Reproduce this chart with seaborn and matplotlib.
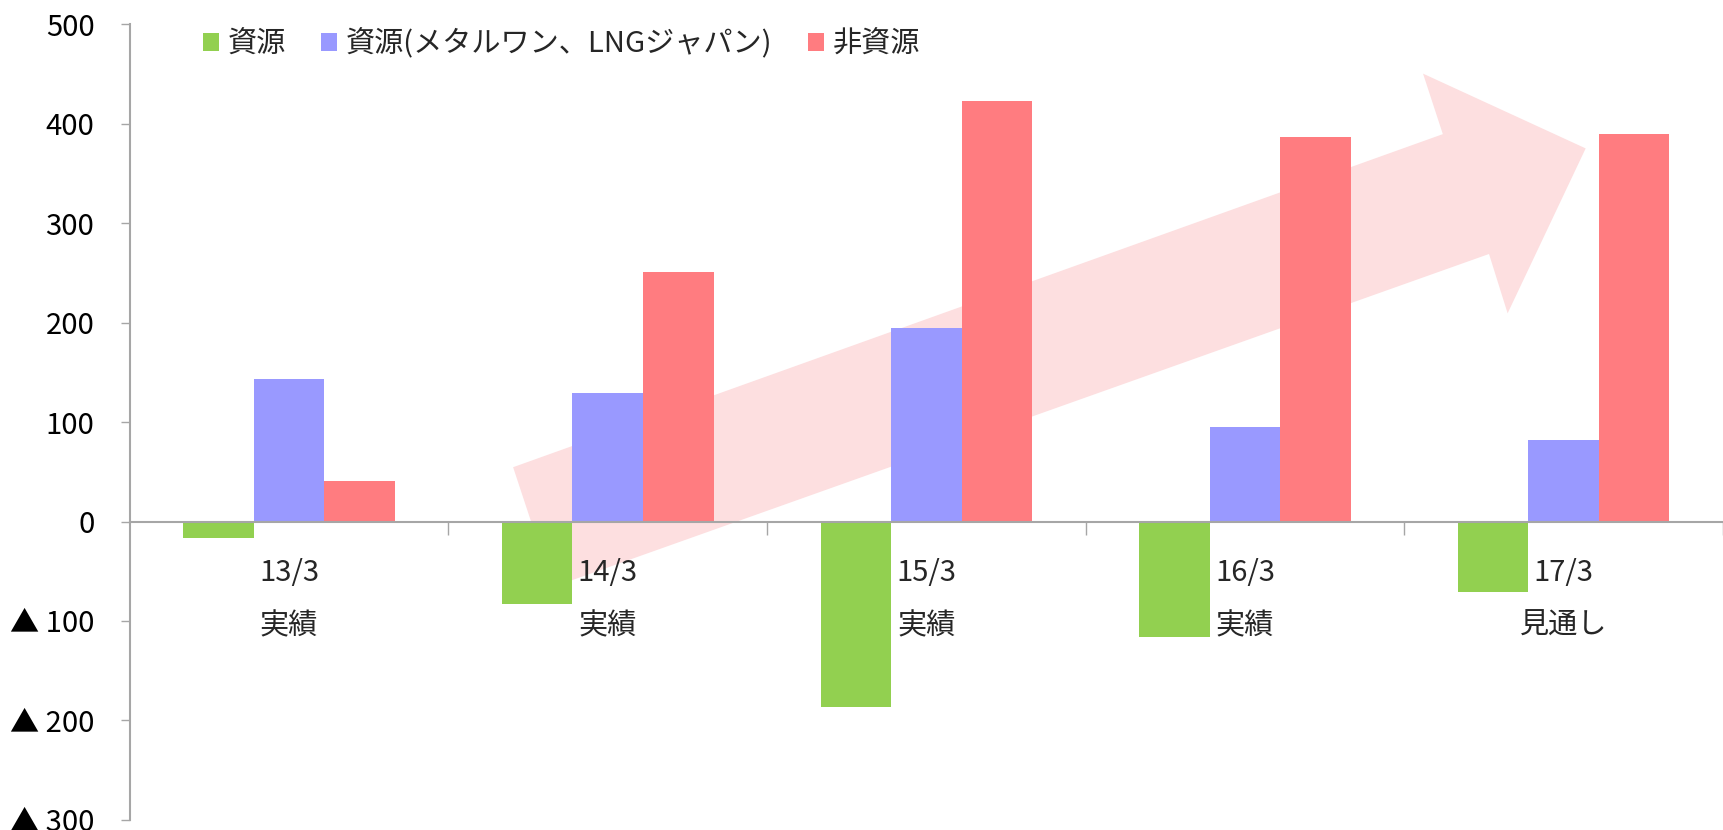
import matplotlib
matplotlib.use('Agg')
import matplotlib.pyplot as plt
import seaborn as sns
import pandas as pd
import numpy as np
from matplotlib.patches import Polygon

# ---- data ----
categories = ['13/3', '14/3', '15/3', '16/3', '17/3']
sublabels = ['実績', '実績', '実績', '実績', '見通し']
series_names = ['資源', '資源(メタルワン、LNGジャパン)', '非資源']
resource = [-17, -83, -187, -116, -71]
resource_jv = [143, 129, 195, 95, 82]
non_resource = [41, 251, 423, 387, 390]
colors = ['#92D050', '#9999FF', '#FF7C80']
yticks = list(range(-300, 501, 100))
ytick_labels = [f'▲ {abs(v)}' if v < 0 else str(v) for v in yticks]

df = pd.DataFrame({
    '期': categories * 3,
    '系列': np.repeat(series_names, len(categories)),
    '値': resource + resource_jv + non_resource,
})

sns.set_theme(style='white')
plt.rcParams['font.family'] = ['Noto Sans CJK JP', 'DejaVu Sans']

FS = 21
fig = plt.figure(figsize=(17.23, 8.3), dpi=100)
ax = fig.add_axes([0.0753, 0.0122, 0.9247, 0.9586])

sns.barplot(data=df, x='期', y='値', hue='系列', hue_order=series_names,
            order=categories, palette=colors, width=0.664, saturation=1,
            gap=0, linewidth=0, errorbar=None, ax=ax, zorder=2)

ax.set_xlim(-0.5, 4.474)
ax.set_ylim(-300, 500)
ax.set_xlabel('')
ax.set_ylabel('')

# decorative arrow (figure fraction)
arrow_pts = [(0.2978, 0.4371), (0.8374, 0.8384), (0.8259, 0.9113),
             (0.9203, 0.8212), (0.8750, 0.6225), (0.8642, 0.6940),
             (0.3208, 0.2927)]
ax.add_patch(Polygon(arrow_pts, closed=True, transform=fig.transFigure,
                     facecolor='#FDDFE0', edgecolor='none', zorder=0.5,
                     clip_on=False))

# spines
for s in ['top', 'right']:
    ax.spines[s].set_visible(False)
ax.spines['bottom'].set_position(('data', 0))
for s in ['bottom', 'left']:
    ax.spines[s].set_color('#A6A6A6')
    ax.spines[s].set_linewidth(1.5)

# x ticks at category boundaries
ax.set_xticks([i + 0.5 for i in range(len(categories))])
ax.set_xticklabels([])
ax.tick_params(axis='x', direction='out', length=9.5, width=1,
               color='#A6A6A6', bottom=True)

# y ticks
ax.set_yticks(yticks)
ax.set_yticklabels(ytick_labels)
ax.tick_params(axis='y', direction='out', length=6.5, width=1,
               color='#A6A6A6', left=True, pad=19, labelsize=FS,
               labelcolor='black')

# category labels under the zero line (beneath bars)
for i, (c, s) in enumerate(zip(categories, sublabels)):
    ax.text(i, -52, c, ha='center', va='center', fontsize=FS, zorder=1)
    ax.text(i, -105, s, ha='center', va='center', fontsize=FS, zorder=1)

# legend
handles, labels = ax.get_legend_handles_labels()
ax.legend(handles, labels, loc='center left', bbox_to_anchor=(0.118, 0.947),
          bbox_transform=fig.transFigure, ncol=3, frameon=False,
          fontsize=FS, handlelength=0.55, handleheight=0.55,
          handletextpad=0.3, columnspacing=1.2, borderaxespad=0,
          borderpad=0)

fig.savefig('out.png', dpi=100)
